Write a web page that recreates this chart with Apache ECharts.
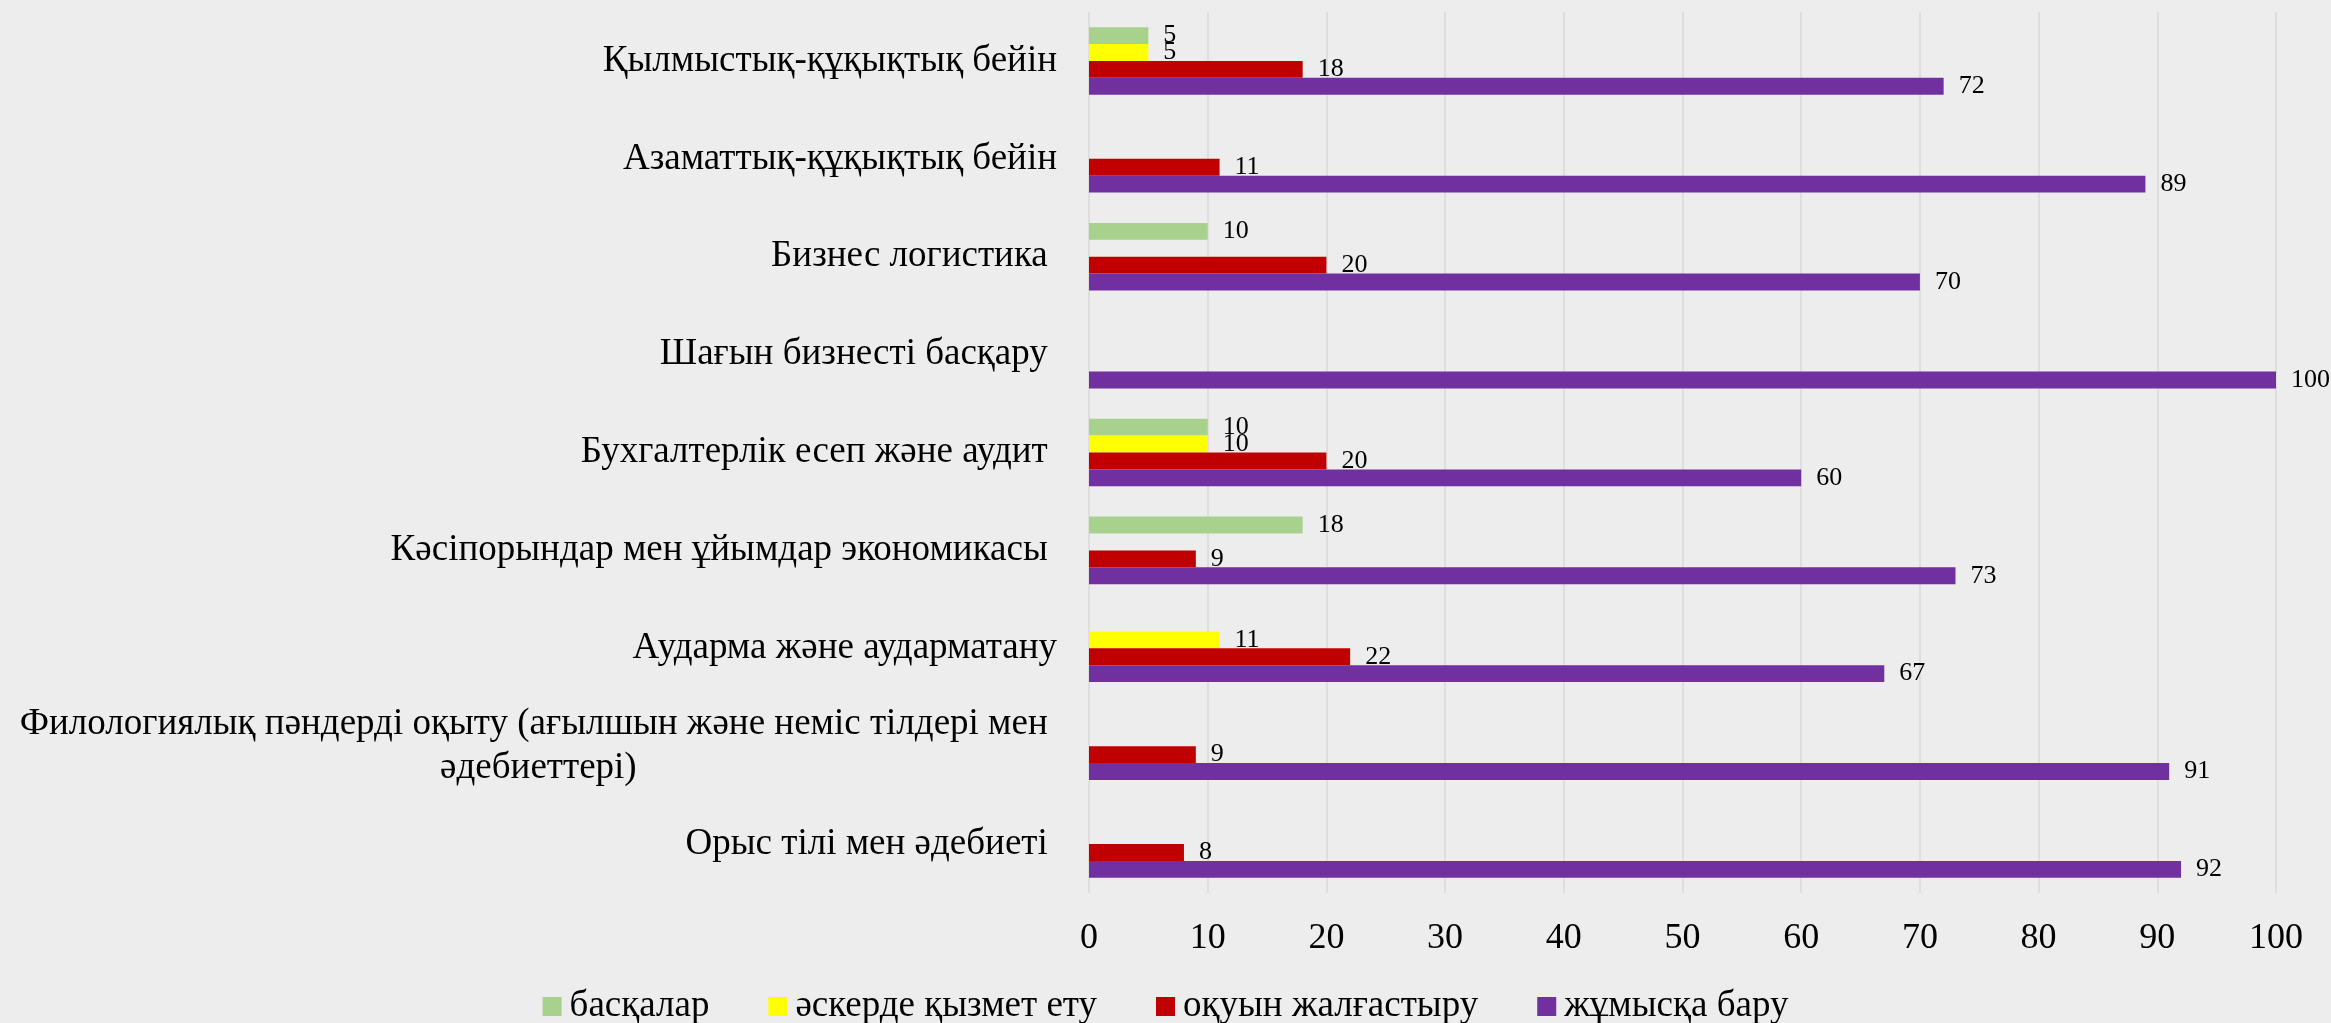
<!DOCTYPE html>
<html>
<head>
<meta charset="utf-8">
<script src="https://cdn.jsdelivr.net/npm/echarts@6/dist/echarts.min.js"></script>
<style>
  html, body { margin: 0; padding: 0; background: #ededed; }
  #chart { width: 2331px; height: 1023px; }
</style>
</head>
<body>
<div id="chart"></div>
<script>
// categories listed top to bottom (axis is inverted)
const categories = [
  "Қылмыстық-құқықтық бейін",
  "Азаматтық-құқықтық бейін",
  "Бизнес логистика ",
  "Шағын бизнесті басқару ",
  "Бухгалтерлік есеп және аудит ",
  "Кәсіпорындар мен ұйымдар экономикасы ",
  "Аударма және аударматану",
  "Филологиялық пәндерді оқыту (ағылшын және неміс тілдері мен \nәдебиеттері)",
  "Орыс тілі мен әдебиеті "
]
const seriesNames = ["басқалар", "әскерде қызмет ету", "оқуын жалғастыру", "жұмысқа бару"]
const other = [5, null, 10, null, 10, 18, null, null, null]
const army = [5, null, null, null, 10, null, 11, null, null]
const study = [18, 11, 20, null, 20, 9, 22, 9, 8]
const work = [72, 89, 70, 100, 60, 73, 67, 91, 92]
const colors = ["#A9D18E", "#FFFF00", "#C00000", "#7030A0"]
const xTicks = { min: 0, max: 100, interval: 10 }

const font = "'Liberation Serif', 'Times New Roman', serif"
const chart = echarts.init(document.getElementById("chart"))

const makeSeries = (name, data, color) => ({
  name: name,
  type: "bar",
  data: data,
  barGap: "0%",
  barCategoryGap: "31%",
  itemStyle: { color: color },
  label: {
    show: true,
    position: "right",
    distance: 15,
    fontFamily: font,
    fontSize: 26,
    color: "#000"
  }
})

chart.setOption({
  backgroundColor: "#ededed",
  animation: false,
  legend: {
    data: seriesNames,
    left: "center",
    top: 983,
    icon: "rect",
    itemWidth: 19,
    itemHeight: 19,
    itemGap: 59,
    textStyle: { fontFamily: font, fontSize: 37, color: "#000", lineHeight: 36, padding: [0, 0, 0, 3] }
  },
  grid: { left: 1089, right: 55, top: 12, bottom: 130 },
  xAxis: {
    type: "value",
    min: xTicks.min,
    max: xTicks.max,
    interval: xTicks.interval,
    axisLine: { show: false },
    axisTick: { show: false },
    splitLine: { lineStyle: { color: "#d9d9d9", width: 1.5 } },
    axisLabel: { fontFamily: font, fontSize: 36, color: "#000", margin: 28 }
  },
  yAxis: {
    type: "category",
    inverse: true,
    data: categories,
    axisLine: { show: false },
    axisTick: { show: false },
    axisLabel: {
      fontFamily: font,
      fontSize: 37,
      color: "#000",
      margin: 32,
      lineHeight: 44,
      formatter: (v) => {
        const lines = v.split("\n")
        if (lines.length === 1) return v
        return lines.map(l => "{c|" + l + "}").join("\n")
      },
      rich: {
        c: { align: "center", fontFamily: font, fontSize: 37, lineHeight: 44, color: "#000" }
      }
    }
  },
  series: [
    makeSeries(seriesNames[0], other, colors[0]),
    makeSeries(seriesNames[1], army, colors[1]),
    makeSeries(seriesNames[2], study, colors[2]),
    makeSeries(seriesNames[3], work, colors[3])
  ]
})

window.addEventListener("resize", () => {
  chart.resize()
})
</script>
</body>
</html>
